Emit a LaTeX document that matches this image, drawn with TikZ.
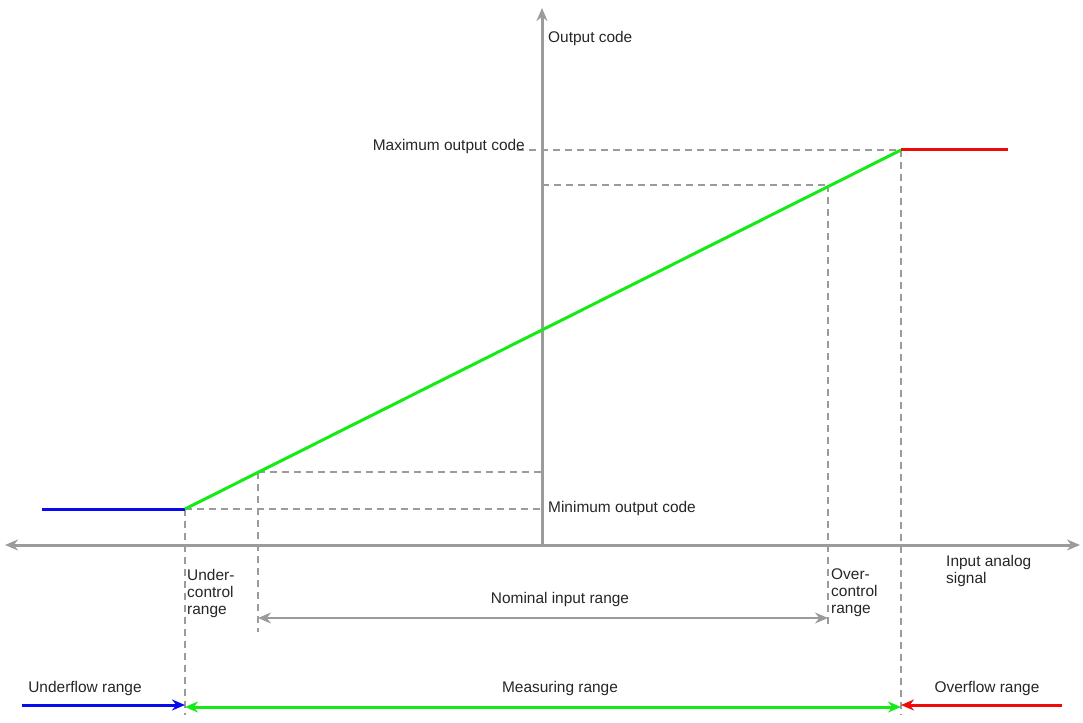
\documentclass[tikz,border=0pt]{standalone}
\usepackage{fontspec}
\setmainfont{Liberation Sans}
\usetikzlibrary{arrows.meta}
\definecolor{axisgray}{RGB}{155,155,155}
\definecolor{lingreen}{RGB}{20,235,20}
\definecolor{lowblue}{RGB}{10,10,240}
\definecolor{highred}{RGB}{240,10,10}
\tikzset{axis/.style={draw=axisgray, line width=3bp},
tip/.style={-{Stealth[length=13bp,width=11bp]}},
guide/.style={draw=axisgray, line width=2.5bp, dash pattern=on 7bp off 5bp},
lbl/.style={font=\fontsize{15.5}{17}\selectfont, text=black!85, inner sep=1bp}}

\begin{document}
\begin{tikzpicture}[x=1bp,y=-1bp]
\useasboundingbox (0,0) rectangle (1083,723);

% axes
\coordinate (xl) at (5,545);
\coordinate (xr) at (1080,545);
\coordinate (o) at (542,545);
\coordinate (yt) at (542,8);
\draw[axis,{Stealth[length=13bp,width=11bp]}-{Stealth[length=13bp,width=11bp]}] (xl) -- (xr);
\draw[axis,tip] (o) -- (yt);

% characteristic
\coordinate (bl) at (42,509);
\coordinate (lo) at (185,509);
\coordinate (hi) at (901,150);
\coordinate (br) at (1008,150);
\coordinate (nl) at (258,472);
\coordinate (nh) at (828,185);

% guides
\draw[guide] (lo) -- (542,509);
\draw[guide] (nl) -- (542,472);
\draw[guide] (542,185) -- (nh);
\draw[guide] (517,150) -- (hi);
\draw[guide] (lo) -- (185,715);
\draw[guide] (nl) -- (258,632);
\draw[guide] (nh) -- (828,628);
\draw[guide] (hi) -- (901,715);

\draw[lowblue, line width=3bp] (bl) -- (lo);
\draw[lingreen, line width=3bp] (lo) -- (hi);
\draw[highred, line width=3bp] (hi) -- (br);

% ranges
\draw[axis,line width=2.5bp,{Stealth[length=13bp,width=11bp]}-{Stealth[length=13bp,width=11bp]}] (258,618) -- (828,618);
\draw[lingreen,line width=3bp,{Stealth[length=13bp,width=11bp]}-{Stealth[length=13bp,width=11bp]}] (185,707) -- (901,707);
\draw[lowblue,line width=3bp,tip] (22,705) -- (185,705);
\draw[highred,line width=3bp,tip] (1062,705) -- (901,705);

% labels
\node[lbl,anchor=west] (oc) at (547,39) {Output code};
\node[lbl,anchor=east] (maxc) at (526,147) {Maximum output code};
\node[lbl,anchor=west] (minc) at (547,509) {Minimum output code};
\node[lbl,anchor=north west,align=left] (ias) at (945,554) {Input analog\\signal};
\node[lbl,anchor=north west,align=left] (ucr) at (186,568) {Under-\\control\\range};
\node[lbl,anchor=north west,align=left] (ocr) at (830,568) {Over-\\control\\range};
\node[lbl] (nir) at (560,600) {Nominal input range};
\node[lbl] (mr) at (560,689) {Measuring range};
\node[lbl] (ufr) at (85,689) {Underflow range};
\node[lbl] (ofr) at (987,689) {Overflow range};
\end{tikzpicture}
\end{document}
